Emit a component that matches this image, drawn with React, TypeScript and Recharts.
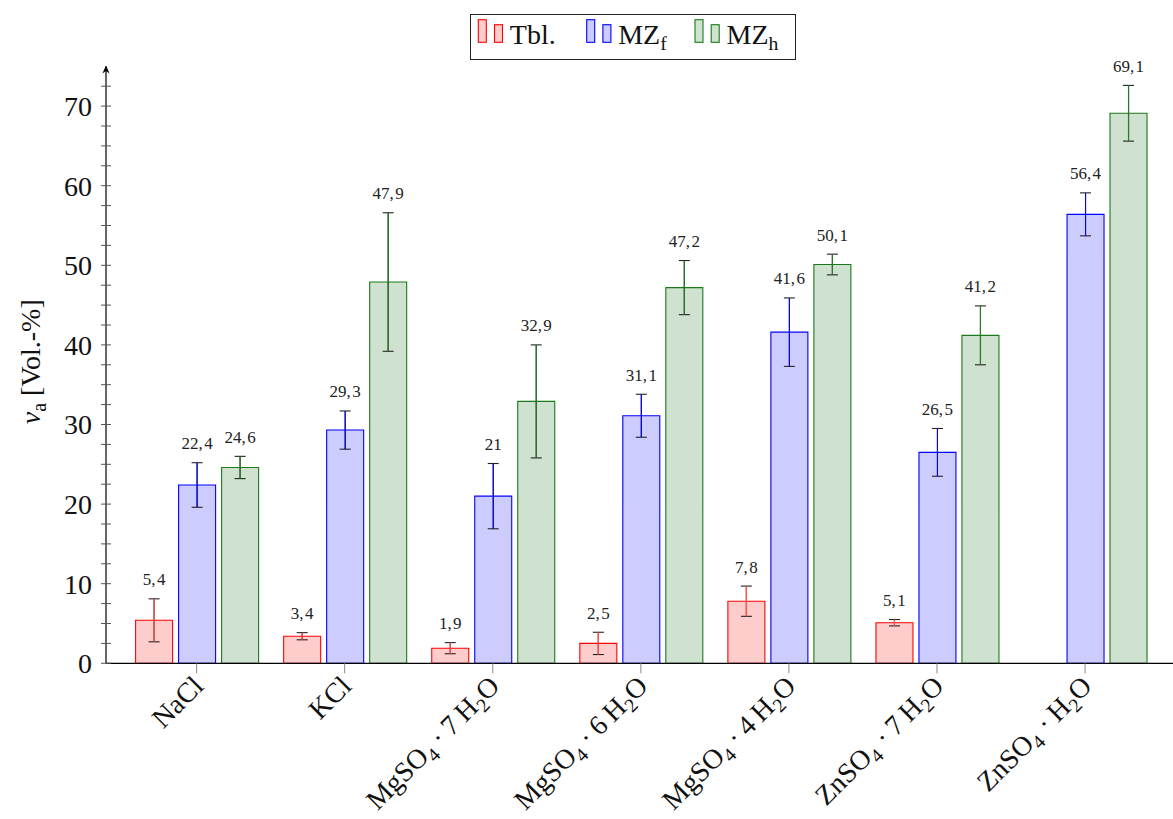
import React from 'react';
import { BarChart, Bar, XAxis, YAxis, ErrorBar, LabelList, Legend } from 'recharts';

// Salt categories; "_x" marks a one-character subscript
const categories = [
  'NaCl',
  'KCl',
  'MgSO_4\u2009·\u20097\u2009H_2O',
  'MgSO_4\u2009·\u20096\u2009H_2O',
  'MgSO_4\u2009·\u20094\u2009H_2O',
  'ZnSO_4 ·\u20097\u2009H_2O',
  'ZnSO_4 ·\u2009H_2O',
];

// Series values in Vol.-% with their symmetric errors
const tbl = [5.4, 3.4, 1.9, 2.5, 7.8, 5.1, null];
const tblErr = [2.7, 0.45, 0.7, 1.4, 1.9, 0.4, null];
const mzf = [22.4, 29.3, 21, 31.1, 41.6, 26.5, 56.4];
const mzfErr = [2.8, 2.4, 4.1, 2.7, 4.3, 3.0, 2.7];
const mzh = [24.6, 47.9, 32.9, 47.2, 50.1, 41.2, 69.1];
const mzhErr = [1.4, 8.7, 7.1, 3.4, 1.3, 3.7, 3.5];

const seriesNames = ['Tbl.', 'MZ_f', 'MZ_h'];

// Minor ticks every 2.5, labelled major ticks every 10
const yTicks = [
  0, 2.5, 5, 7.5, 10, 12.5, 15, 17.5, 20, 22.5, 25, 27.5, 30, 32.5, 35, 37.5,
  40, 42.5, 45, 47.5, 50, 52.5, 55, 57.5, 60, 62.5, 65, 67.5, 70, 72.5,
];
const yMajorTicks = [0, 10, 20, 30, 40, 50, 60, 70];

const data = categories.map((name, i) => ({
  name,
  tbl: tbl[i],
  tblErr: tblErr[i],
  mzf: mzf[i],
  mzfErr: mzfErr[i],
  mzh: mzh[i],
  mzhErr: mzhErr[i],
}));

const SERIF = '"Liberation Serif", "DejaVu Serif", serif';

const RED = { stroke: '#ff0000', fill: '#ffcccc', err: '#ff5050' };
const BLUE = { stroke: '#0000ff', fill: '#ccccff', err: '#0000ff' };
const GREEN = { stroke: '#1a7a1a', fill: '#cfe2cf', err: '#2a7a2a' };
const CAP = '#222';

// Build tspans with lowered, smaller subscripts
function richText(s: string, size: number) {
  const parts: React.ReactNode[] = [];
  const subSize = size * 0.7;
  const shift = size * 0.22;
  let buf = '';
  let k = 0;
  let lowered = false;
  const flush = () => {
    if (buf) {
      parts.push(
        <tspan key={k++} fontSize={size} dy={lowered ? -shift : 0}>
          {buf.replace(/ /g, '\u00a0')}
        </tspan>
      );
      lowered = false;
      buf = '';
    }
  };
  for (let i = 0; i < s.length; i++) {
    if (s[i] === '_' && i + 1 < s.length) {
      flush();
      parts.push(
        <tspan key={k++} fontSize={subSize} dy={lowered ? 0 : shift}>
          {s[i + 1]}
        </tspan>
      );
      lowered = true;
      i++;
    } else {
      buf += s[i];
    }
  }
  flush();
  return parts;
}

const XTick = (props: any) => {
  const { x, y, payload } = props;
  return (
    <g>
      <line x1={x} y1={y} x2={x} y2={y + 10} stroke="#888" strokeWidth={1} />
      <g transform={`translate(${x + 2},${y + 18}) rotate(-45)`}>
        <text x={0} y={9} textAnchor="end" fontFamily={SERIF} fontSize={28} fill="#111">
          {richText(String(payload.value), 28)}
        </text>
      </g>
    </g>
  );
};

const YTickLeft = (props: any) => {
  const { x, y, payload } = props;
  const major = yMajorTicks.includes(payload.value);
  return (
    <g>
      <line x1={x - 5} y1={y} x2={x + 5} y2={y} stroke="#555" strokeWidth={1} />
      {major && (
        <text x={x - 14} y={y} dy="0.35em" textAnchor="end" fontFamily={SERIF} fontSize={28} fill="#111">
          {payload.value}
        </text>
      )}
    </g>
  );
};

const YTickRight = (props: any) => {
  const { x, y, payload } = props;
  const major = yMajorTicks.includes(payload.value);
  return <line x1={x - (major ? 6 : 3)} y1={y} x2={x} y2={y} stroke="#666" strokeWidth={1} />;
};

const makeValueLabel = (errs: (number | null)[]) => (props: any) => {
  const vb = props.viewBox ?? props;
  const { x, y, width, height } = vb;
  const { value, index } = props;
  if (value == null || errs[index] == null || !value) return null;
  const pxPerUnit = Math.abs(height) / value;
  const top = Math.min(y, y + height) - (errs[index] as number) * pxPerUnit;
  return (
    <text
      x={x + width / 2}
      y={top - 13.5}
      textAnchor="middle"
      fontFamily={SERIF}
      fontSize={17}
      fill="#222"
    >
      {String(value).replace('.', ',\u200a')}
    </text>
  );
};

const YLabel = (props: any) => {
  const vb = props.viewBox;
  const cx = vb.x + 30;
  const cy = vb.y + vb.height / 2 - 3;
  return (
    <text
      transform={`translate(${cx},${cy}) rotate(-90)`}
      textAnchor="middle"
      dy="0.35em"
      fontFamily={SERIF}
      fontSize={28}
      fill="#111"
    >
      <tspan fontStyle="italic">ν</tspan>
      <tspan fontSize={20} dy={6}>a</tspan>
      <tspan dy={-6}>{'\u00a0[Vol.-%]'}</tspan>
    </text>
  );
};

const legendColors = [RED, BLUE, GREEN];
const legendX = [8.3, 116.7, 225];

const LegendBox = () => (
  <svg width={327} height={47} style={{ display: 'block' }}>
    <rect x={0.5} y={0.5} width={325} height={45} fill="#fff" stroke="#222" strokeWidth={1} />
    {seriesNames.map((name, i) => {
      const c = legendColors[i];
      const lx = legendX[i];
      return (
        <g key={name}>
          <rect x={lx} y={5.7} width={8} height={22.6} fill={c.fill} stroke={c.stroke} strokeWidth={1.1} />
          <rect x={lx + 16.2} y={10.7} width={8} height={17.6} fill={c.fill} stroke={c.stroke} strokeWidth={1.1} />
          <text x={lx + 31.5} y={30} fontFamily={SERIF} fontSize={28} fill="#111">
            {richText(name, 28)}
          </text>
        </g>
      );
    })}
  </svg>
);

export default function App() {
  return (
    <div style={{ position: 'absolute', left: 0, top: 0, width: 1173, height: 819, overflow: 'hidden', background: '#fff' }}>
      <BarChart
        width={1173}
        height={819}
        data={data}
        margin={{ top: 66.3, right: 0, bottom: 0, left: 0 }}
        barSize={37}
        barGap={6}
        style={{ fontFamily: SERIF }}
      >
        <defs>
          <marker
            id="axisArrow"
            viewBox="0 0 10 10"
            refX="9"
            refY="5"
            markerWidth="8"
            markerHeight="8"
            markerUnits="userSpaceOnUse"
            orient="auto-start-reverse"
          >
            <path d="M0,0.5 L10,5 L0,9.5 L3,5 z" fill="#000" />
          </marker>
        </defs>
        <XAxis
          dataKey="name"
          interval={0}
          tickLine={false}
          tickSize={0}
          tickMargin={0}
          height={155.7}
          padding={{ left: 16.6, right: 13.9 }}
          axisLine={{ stroke: '#000', strokeWidth: 1.2 }}
          tick={<XTick />}
        />
        <YAxis
          yAxisId="left"
          type="number"
          width={106}
          domain={[0, 75]}
          allowDataOverflow
          ticks={yTicks}
          interval={0}
          tickLine={false}
          tickSize={0}
          tickMargin={0}
          axisLine={{ stroke: '#000', strokeWidth: 1.2, markerStart: 'url(#axisArrow)' } as any}
          tick={<YTickLeft />}
          label={{ content: <YLabel /> } as any}
        />
        <YAxis
          yAxisId="right"
          orientation="right"
          type="number"
          width={0}
          domain={[0, 75]}
          allowDataOverflow
          ticks={yTicks}
          interval={0}
          tickLine={false}
          tickSize={0}
          tickMargin={0}
          axisLine={{ stroke: '#000', strokeWidth: 1.2, markerStart: 'url(#axisArrow)' } as any}
          tick={<YTickRight />}
        />
        <Legend
          layout="vertical"
          verticalAlign="middle"
          align="center"
          content={<LegendBox />}
          wrapperStyle={{ position: 'absolute', left: 470, top: 14, width: 327, height: 47 }}
        />
        <Bar yAxisId="left" dataKey="tbl" name={seriesNames[0]} fill={RED.fill} stroke={RED.stroke} strokeWidth={1.1} isAnimationActive={false}>
          <ErrorBar dataKey="tblErr" direction="y" width={5.5} stroke={CAP} strokeWidth={1.1} isAnimationActive={false} />
          <ErrorBar dataKey="tblErr" direction="y" width={0} stroke={RED.err} strokeWidth={1.3} isAnimationActive={false} />
          <LabelList dataKey="tbl" content={makeValueLabel(tblErr)} />
        </Bar>
        <Bar yAxisId="left" dataKey="mzf" name={seriesNames[1]} fill={BLUE.fill} stroke={BLUE.stroke} strokeWidth={1.1} isAnimationActive={false}>
          <ErrorBar dataKey="mzfErr" direction="y" width={5.5} stroke={CAP} strokeWidth={1.1} isAnimationActive={false} />
          <ErrorBar dataKey="mzfErr" direction="y" width={0} stroke={BLUE.err} strokeWidth={1.1} isAnimationActive={false} />
          <LabelList dataKey="mzf" content={makeValueLabel(mzfErr)} />
        </Bar>
        <Bar yAxisId="left" dataKey="mzh" name={seriesNames[2]} fill={GREEN.fill} stroke={GREEN.stroke} strokeWidth={1.1} isAnimationActive={false}>
          <ErrorBar dataKey="mzhErr" direction="y" width={5.5} stroke={CAP} strokeWidth={1.1} isAnimationActive={false} />
          <ErrorBar dataKey="mzhErr" direction="y" width={0} stroke={GREEN.err} strokeWidth={1.2} isAnimationActive={false} />
          <LabelList dataKey="mzh" content={makeValueLabel(mzhErr)} />
        </Bar>
      </BarChart>
    </div>
  );
}
